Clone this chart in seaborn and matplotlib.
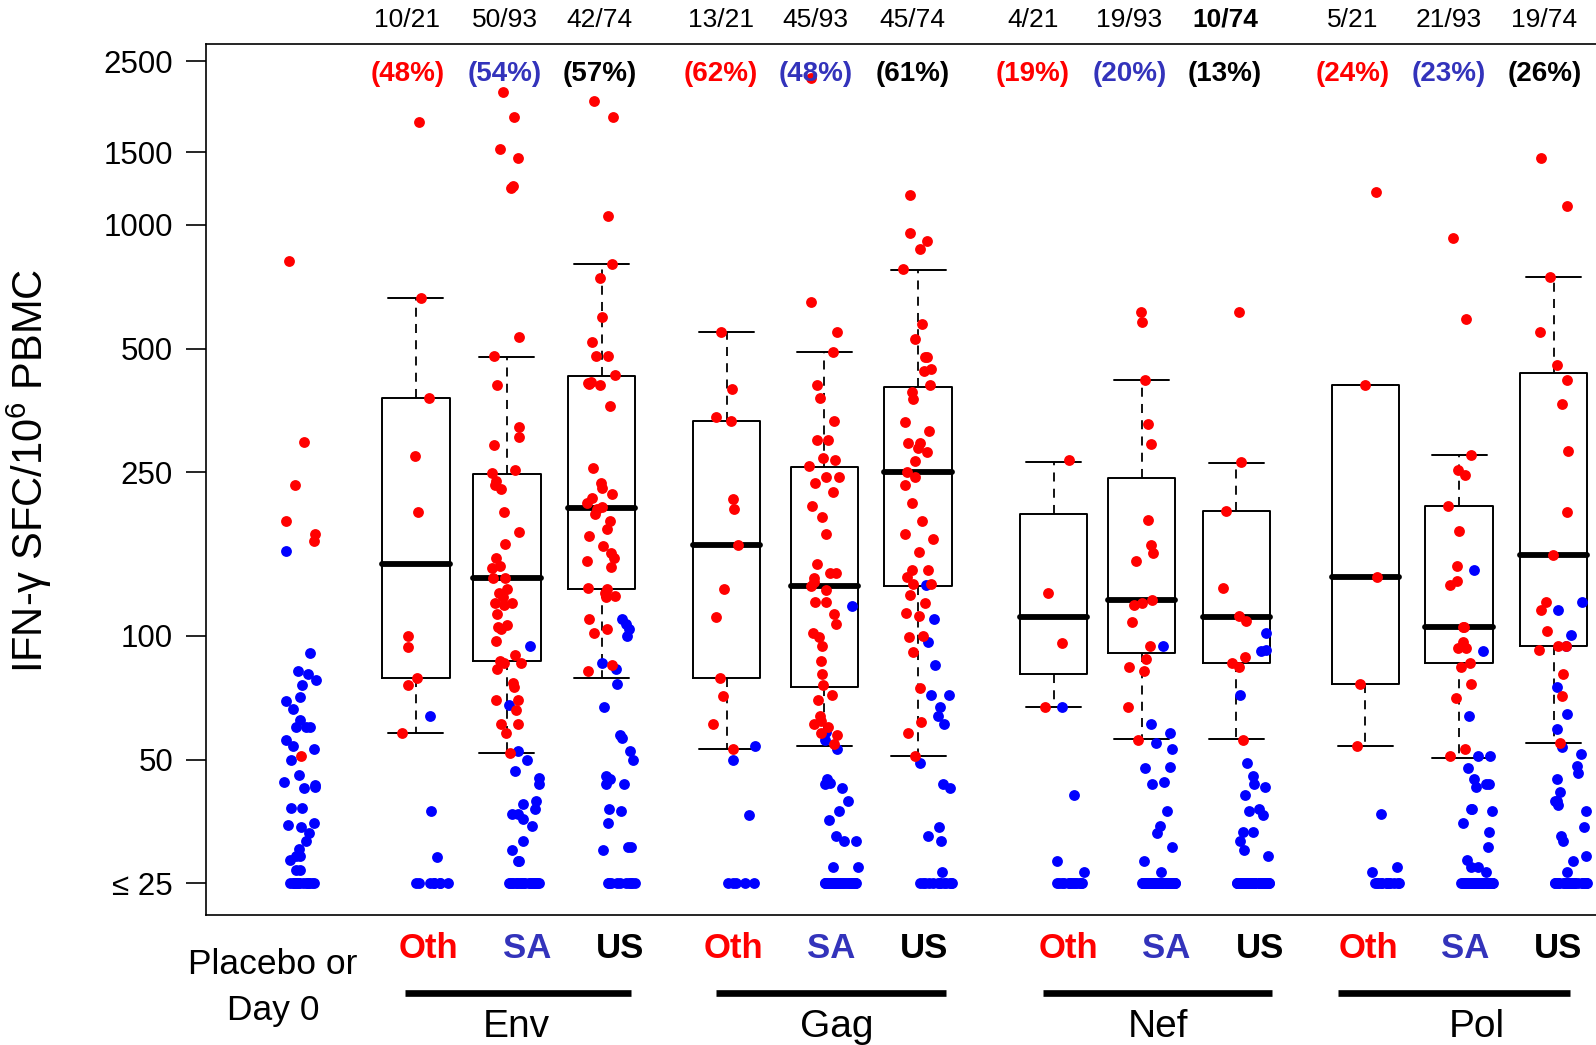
import numpy as np
import pandas as pd
import matplotlib.pyplot as plt
import matplotlib.transforms as mtransforms
import seaborn as sns

# ---- data (IFN-g SFC / 10^6 PBMC) ----
categories = ['Placebo', 'Env Oth', 'Env SA', 'Env US', 'Gag Oth', 'Gag SA', 'Gag US',
              'Nef Oth', 'Nef SA', 'Nef US', 'Pol Oth', 'Pol SA', 'Pol US']

# responders (red)
placebo_red = [818, 296, 233, 190, 177, 170, 51]
env_oth_red = [1775, 665, 380, 274, 200, 100, 94, 79, 76, 58]
env_sa_red = [2099, 1828, 1530, 1455, 1242, 1230, 534, 479, 408, 322, 305, 291, 253, 249,
              238, 233, 228, 200, 179, 167, 155, 148, 146, 138, 138, 130, 127, 124, 120, 120,
              119, 113, 106, 105, 104, 97, 90, 87, 86, 86, 83, 77, 75, 70, 70, 66, 61, 61, 58, 52]
env_us_red = [2000, 1828, 1048, 802, 741, 596, 518, 479, 479, 431, 415, 412, 410, 408, 362,
              256, 235, 229, 221, 216, 210, 206, 203, 198, 190, 182, 175, 165, 159, 155, 152,
              147, 131, 130, 127, 125, 124, 110, 104, 101.5, 85, 82, 79][:42]
gag_oth_red = [549, 399, 341, 334, 215, 203, 166, 130, 111, 79, 71.6, 61, 53]
gag_sa_red = [2270, 650, 548, 491, 407, 380, 334, 300, 300, 271, 268, 259, 244, 243, 236, 224,
              207, 195, 177, 150, 142, 142, 138, 135, 132.5, 129, 121, 121, 113, 107, 101.5,
              99.6, 94.5, 87, 80.7, 76, 72, 70, 64, 62, 61, 60, 58, 57.5, 54.5]
gag_us_red = [1182, 953, 913, 874, 779, 573, 527, 478, 478, 445, 441, 407, 391, 376, 331, 315,
              294, 294, 286, 280, 267, 250, 244, 233, 211, 190, 177, 172, 160, 145, 145, 139,
              134, 134, 126, 120, 114, 112, 100, 99.6, 91.5, 74.6, 61.7, 58, 51]
nef_oth_red = [268, 127, 96, 67]
nef_sa_red = [612, 581, 419, 327, 293, 191, 166, 159, 152, 122, 120, 119, 108, 94.5, 88, 84,
              82, 67, 55.8]
nef_us_red = [612, 265, 201, 131, 112, 109, 89, 86, 84, 55.8]
pol_oth_red = [1203, 408, 139, 76.5, 54]
pol_sa_red = [930, 589, 276, 253, 246, 207, 180, 148, 136, 133, 105, 105, 96.7, 93.7, 93.7,
              86, 84, 76.5, 70.8, 53, 51]
pol_us_red = [1453, 1112, 746, 549, 455, 420, 366, 282, 200, 157, 121, 115.5, 103, 94.6, 94.6,
              92.5, 80.7, 71.5, 54.8]

# non-responders (blue) above the floor
placebo_blue = [161, 90.7, 82, 80.7, 78, 76, 71, 69.4, 66.3, 62.4, 60, 60, 60, 55.7, 54, 53, 50,
                45.9, 43.5, 44, 42.6, 42.8, 38.2, 38.2, 35, 34.7, 34.2, 33.2, 31.7, 30.3, 28.5,
                29.1, 29.1, 26.9, 26.9]
env_oth_blue = [64, 37.6, 29]
env_sa_blue = [94.5, 68, 52.5, 50, 47, 45, 43.6, 39.7, 39, 38, 36.8, 36.8, 35.8, 34.4, 31.7,
               30.2, 28.4, 28.4]
env_us_blue = [110, 107, 104, 100, 86, 83, 76.5, 67, 57.5, 56.5, 52.5, 50, 45.6, 44.8, 43.6,
               43.6, 38, 37.5, 35.1, 30.7, 30.7, 30.2]
gag_oth_blue = [54, 50, 36.6]
gag_sa_blue = [118, 58.4, 55.8, 53, 44.8, 43.8, 43.7, 42.7, 39.7, 37.5, 35.6, 32.6, 31.7, 31.7,
               27.4, 27.4]
gag_us_blue = [133, 110, 96.7, 85, 72, 72, 67, 64, 61, 49.2, 43.6, 42.7, 34.2, 32.6, 31.7, 26.6]
nef_oth_blue = [67, 41, 28.4, 26.6]
nef_sa_blue = [94.5, 61, 58, 54.8, 53, 48, 47.6, 44, 43.6, 37.5, 34.4, 33.2, 30.7, 28.4, 26.6]
nef_us_blue = [101.5, 92.5, 92, 72, 49.2, 45.6, 43.7, 42.9, 41, 38, 37.5, 36.6, 33.4, 33.3,
               31.7, 30.2, 29.2]
pol_oth_blue = [36.8, 27.4, 26.6]
pol_sa_blue = [145, 92, 64, 51, 51, 47.6, 44.8, 43.7, 43.7, 42.9, 38, 38, 37.5, 35.1, 33.3,
               30.7, 28.5, 27.4, 27.4, 26.6]
pol_us_blue = [121, 115.5, 100.6, 94.5, 75, 64.6, 59.3, 53.7, 51.6, 48.2, 46.3, 44.8, 41.8,
               39.7, 39.7, 38.8, 37.5, 34.2, 32.6, 31.7, 29.2, 28.4, 26.6]

# number of non-responders sitting at the <=25 floor
floor_counts = [15, 8, 25, 10, 5, 32, 13, 13, 59, 47, 13, 52, 32]
floor_value = 25

# box statistics of responders (whisker low, q1, median, q3, whisker high)
box_whislo = [58, 52, 79, 53, 54, 51, 67, 56, 56, 54, 50.4, 55]
box_q1 = [79, 87, 130, 79, 75, 132.5, 81, 91, 86, 76.5, 86, 94.5]
box_med = [150, 138, 205, 166, 132, 250, 111, 122, 111, 139, 105, 157]
box_q3 = [380, 248, 428, 334, 257, 403, 198, 242, 201, 408, 207, 437]
box_whishi = [665, 477, 802, 549, 491, 775, 265, 419, 263, 408, 276, 746]

count_labels = ['10/21', '50/93', '42/74', '13/21', '45/93', '45/74',
                '4/21', '19/93', '10/74', '5/21', '21/93', '19/74']
pct_labels = ['(48%)', '(54%)', '(57%)', '(62%)', '(48%)', '(61%)',
              '(19%)', '(20%)', '(13%)', '(24%)', '(23%)', '(26%)']
sub_labels = ['Oth', 'SA', 'US'] * 4
groups = ['Env', 'Gag', 'Nef', 'Pol']
yticks = [25, 50, 100, 250, 500, 1000, 1500, 2500]
ytick_labels = ['≤ 25', '50', '100', '250', '500', '1000', '1500', '2500']

# ---- layout ----
positions = [0, 1.22, 2.18, 3.18, 4.5, 5.53, 6.52, 7.95, 8.88, 9.88, 11.24, 12.23, 13.23]
blue_shift = [0, 0.18, 0.18, 0.18, 0.18, 0.18, 0.18, 0.18, 0.18, 0.18, 0.18, 0.18, 0.18]
top_x = [1.13, 2.16, 3.16, 4.44, 5.44, 6.46, 7.73, 8.75, 9.76, 11.11, 12.12, 13.13]
sub_x = [1.35, 2.39, 3.37, 4.57, 5.6, 6.58, 8.11, 9.14, 10.13, 11.27, 12.29, 13.27]
group_line = [(1.1, 3.49), (4.39, 6.81), (7.84, 10.26), (10.95, 13.4)]
group_x = [2.28, 5.66, 9.05, 12.42]
bold_count = 8  # the Nef US count is printed in bold

RED = '#FF0000'
BLUE = '#0000FF'
TXT_BLUE = '#3333BB'
sub_colors = [RED, TXT_BLUE, 'black'] * 4

reds = [placebo_red, env_oth_red, env_sa_red, env_us_red, gag_oth_red, gag_sa_red, gag_us_red,
        nef_oth_red, nef_sa_red, nef_us_red, pol_oth_red, pol_sa_red, pol_us_red]
blues = [placebo_blue, env_oth_blue, env_sa_blue, env_us_blue, gag_oth_blue, gag_sa_blue,
         gag_us_blue, nef_oth_blue, nef_sa_blue, nef_us_blue, pol_oth_blue, pol_sa_blue,
         pol_us_blue]

rows = []
for i, cat in enumerate(categories):
    for v in reds[i]:
        rows.append((cat, positions[i], v, 'responder'))
    for v in blues[i] + [floor_value] * floor_counts[i]:
        rows.append((cat, positions[i] + blue_shift[i], v, 'non'))
df = pd.DataFrame(rows, columns=['category', 'pos', 'sfc', 'status'])

sns.set_style('ticks')
plt.rcParams['font.family'] = ['Liberation Sans', 'DejaVu Sans']
plt.rcParams['mathtext.default'] = 'regular'
plt.rcParams['text.color'] = 'black'
plt.rcParams['axes.labelcolor'] = 'black'
plt.rcParams['ytick.color'] = 'black'

fig = plt.figure(figsize=(15.96, 10.45), dpi=100)
ax = fig.add_axes([0.1288, 0.1244, 0.8727, 0.8337])
ax.set_yscale('log')

# boxes (responders only)
stats = []
for i in range(12):
    stats.append(dict(whislo=box_whislo[i], q1=box_q1[i], med=box_med[i],
                      q3=box_q3[i], whishi=box_whishi[i], fliers=[]))
ax.bxp(stats, positions=positions[1:], widths=0.71, capwidths=0.58, showfliers=False,
       manage_ticks=False,
       boxprops=dict(color='black', lw=1.4),
       medianprops=dict(color='black', lw=4.2, solid_capstyle='round'),
       whiskerprops=dict(color='black', lw=1.3, linestyle=(0, (5, 4))),
       capprops=dict(color='black', lw=1.4))

np.random.seed(7)
sns.stripplot(data=df[df.status == 'non'], x='pos', y='sfc', native_scale=True,
              color=BLUE, size=7.8, jitter=0.19, linewidth=0, ax=ax)
sns.stripplot(data=df[df.status == 'responder'], x='pos', y='sfc', native_scale=True,
              color=RED, size=7.8, jitter=0.17, linewidth=0, ax=ax)
for c in ax.collections:
    c.set_zorder(3)

ax.set_xlim(-1.0, 13.70)
ax.set_ylim(20.95, 2755)
ax.set_xticks([])
ax.set_yticks(yticks)
ax.set_yticklabels(ytick_labels)
ax.yaxis.set_minor_locator(plt.NullLocator())
ax.tick_params(axis='y', labelsize=22.5, length=14.4, width=1.2, pad=9, colors='black')
for s in ax.spines.values():
    s.set_linewidth(1.2)
    s.set_color('black')
ax.set_xlabel('')
ax.set_ylabel(r'IFN-γ SFC/10$^6$ PBMC', fontsize=30, color='black')
ax.yaxis.set_label_coords(-0.109, 0.51)

trans = mtransforms.blended_transform_factory(ax.transData, fig.transFigure)
for i in range(12):
    ax.text(top_x[i], 0.9809, count_labels[i], transform=trans, ha='center', va='center',
            fontsize=19, fontweight='bold' if i == bold_count else 'normal', color='black',
            clip_on=False)
    ax.text(top_x[i], 0.9292, pct_labels[i], transform=trans, ha='center', va='center',
            fontsize=20, fontweight='bold', color=sub_colors[i], clip_on=False)
    ax.text(sub_x[i], 0.0830, sub_labels[i], transform=trans, ha='center', va='baseline',
            fontsize=25, fontweight='bold', color=sub_colors[i], clip_on=False)

ax.text(-0.29, 0.0679, 'Placebo or', transform=trans, ha='center', va='baseline',
        fontsize=25.5, color='black')
ax.text(-0.29, 0.0239, 'Day 0', transform=trans, ha='center', va='baseline',
        fontsize=25.5, color='black')
for (x0, x1), gx, g in zip(group_line, group_x, groups):
    ax.plot([x0, x1], [0.0495, 0.0495], transform=trans, color='black', lw=4.8,
            clip_on=False, solid_capstyle='butt')
    ax.text(gx, 0.0080, g, transform=trans, ha='center', va='baseline', fontsize=28,
            color='black')

fig.savefig('out.png', dpi=100)
